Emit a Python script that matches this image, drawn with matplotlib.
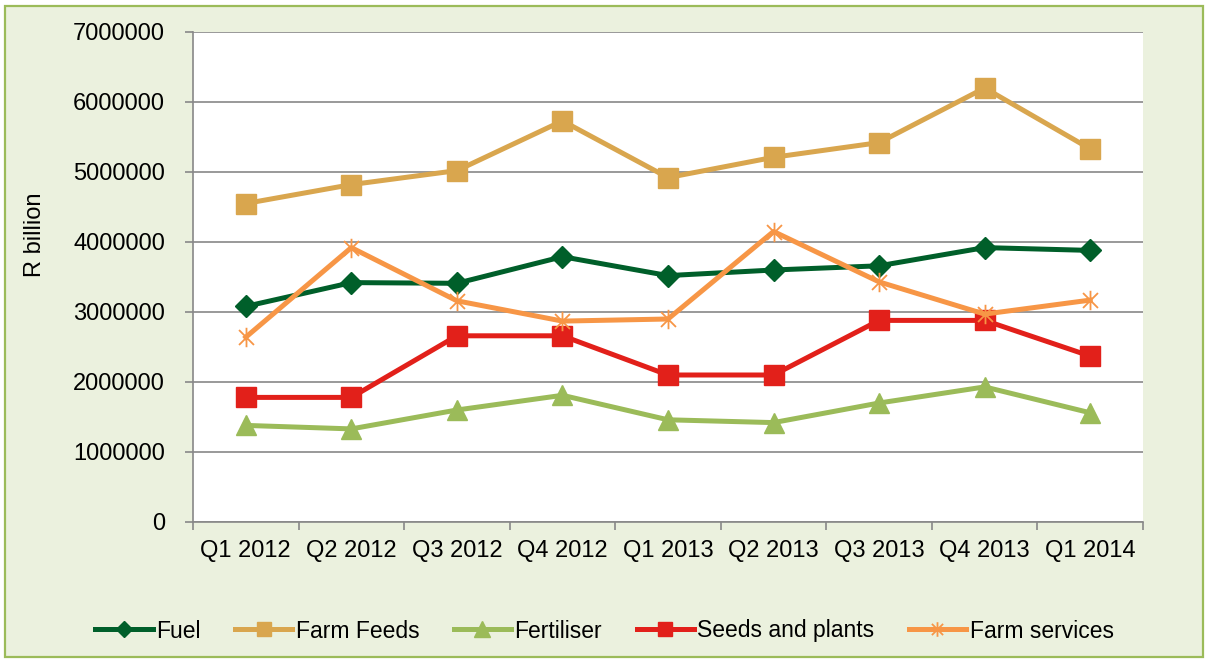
import matplotlib.pyplot as plt
from matplotlib.patches import Rectangle
from matplotlib.path import Path
from matplotlib.ticker import FixedLocator, FuncFormatter

plt.rcParams['font.family'] = ['Liberation Sans', 'DejaVu Sans']

quarters = ["Q1 2012", "Q2 2012", "Q3 2012", "Q4 2012", "Q1 2013",
            "Q2 2013", "Q3 2013", "Q4 2013", "Q1 2014"]

fuel = [3080000, 3420000, 3410000, 3790000, 3520000, 3600000, 3660000, 3920000, 3880000]
farm_feeds = [4550000, 4820000, 5020000, 5730000, 4920000, 5210000, 5420000, 6200000, 5330000]
fertiliser = [1380000, 1330000, 1600000, 1810000, 1460000, 1420000, 1700000, 1930000, 1560000]
seeds_plants = [1780000, 1780000, 2660000, 2660000, 2100000, 2100000, 2880000, 2880000, 2370000]
farm_services = [2640000, 3920000, 3160000, 2870000, 2900000, 4150000, 3430000, 2970000, 3170000]

# Excel style star: X with a vertical bar
star = Path([(-1, -1), (1, 1), (-1, 1), (1, -1), (0, -1.3), (0, 1.3)],
            [Path.MOVETO, Path.LINETO, Path.MOVETO, Path.LINETO, Path.MOVETO, Path.LINETO])

fs = 17

fig = plt.figure(figsize=(12.09, 6.63), dpi=100)
fig.patch.set_facecolor('white')
fig.patches.append(Rectangle((5 / 1209, 6 / 663), 1198 / 1209, 651 / 663,
                             transform=fig.transFigure, facecolor='#EBF1DE',
                             edgecolor='#9BBB59', linewidth=1.6, zorder=-5))

ax = fig.add_axes([193 / 1209, 1 - 522 / 663, 950 / 1209, 490 / 663])
ax.set_facecolor('white')

x = range(len(quarters))
lw = 3.6
ax.plot(x, fuel, color='#005F2A', lw=lw, marker='D', ms=11, label='Fuel', zorder=3)
ax.plot(x, farm_feeds, color='#D9A64E', lw=lw, marker='s', ms=14, label='Farm Feeds', zorder=3)
ax.plot(x, fertiliser, color='#9BBB59', lw=lw, marker='^', ms=15, label='Fertiliser', zorder=3)
ax.plot(x, seeds_plants, color='#E2201A', lw=lw, marker='s', ms=14, label='Seeds and plants', zorder=3)
ax.plot(x, farm_services, color='#F79646', lw=lw, marker=star, ms=14, mew=1.3,
        label='Farm services', zorder=3)

ax.set_xlim(-0.5, len(quarters) - 0.5)
ax.set_ylim(0, 7000000)
ax.set_yticks(range(0, 7000001, 1000000))
ax.yaxis.set_major_formatter(FuncFormatter(lambda v, p: f"{int(v)}"))
ax.grid(axis='y', color='#888888', lw=1.2, zorder=1)
ax.set_axisbelow(True)

# category boundaries get the tick marks, labels sit in the middle
ax.xaxis.set_major_locator(FixedLocator([i - 0.5 for i in range(len(quarters) + 1)]))
ax.xaxis.set_major_formatter(FuncFormatter(lambda v, p: ""))
ax.xaxis.set_minor_locator(FixedLocator(list(x)))
ax.set_xticklabels(quarters, minor=True)
ax.tick_params(axis='x', which='major', length=6, color='#888888', width=1.2)
ax.tick_params(axis='x', which='minor', length=0, pad=13, labelsize=fs)
ax.tick_params(axis='y', length=6, color='#888888', width=1.2, labelsize=fs, pad=14)

for s in ['top', 'right']:
    ax.spines[s].set_visible(False)
for s in ['left', 'bottom']:
    ax.spines[s].set_color('#888888')
    ax.spines[s].set_linewidth(1.2)

fig.text(35 / 1209, 1 - 235 / 663, 'R billion', rotation=90, fontsize=fs,
         ha='center', va='center')

fig.legend(loc='center', bbox_to_anchor=(0.5, 1 - 631 / 663), ncol=5, frameon=False,
           fontsize=16.5, handlelength=2.5, columnspacing=1.5, handletextpad=0.15,
           markerscale=0.75)

fig.savefig('out.png', dpi=100, facecolor=fig.get_facecolor())
